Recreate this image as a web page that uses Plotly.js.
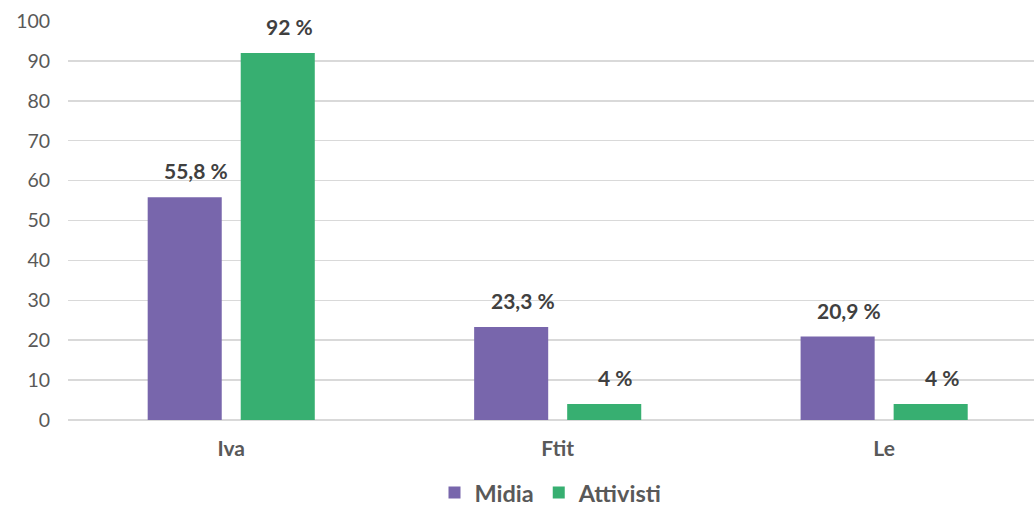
<!DOCTYPE html>
<html>
<head>
<meta charset="utf-8">
<script src="https://cdn.plot.ly/plotly-3.0.1.min.js"></script>
<style>html,body{margin:0;padding:0;background:#fff;}#chart{width:1034px;height:506px;}</style>
</head>
<body>
<div id="chart"></div>
<script>
const categories = ["Iva", "Ftit", "Le"];
const midiaValues = [55.8, 23.3, 20.9];
const attivistiValues = [92, 4, 4];
const midiaLabels = ["55,8 %", "23,3 %", "20,9 %"];
const attivistiLabels = ["92 %", "4 %", "4 %"];
const yTicks = [0, 10, 20, 30, 40, 50, 60, 70, 80, 90, 100];

const purple = "#7866AC";
const green = "#37AF71";
const font = "Lato, 'Open Sans', sans-serif";

const traces = [
  {type: "bar", name: "Midia", x: categories, y: midiaValues, marker: {color: purple}, hoverinfo: "none"},
  {type: "bar", name: "Attivisti", x: categories, y: attivistiValues, marker: {color: green}, hoverinfo: "none"}
];

const annotations = [];
categories.forEach((c, i) => {
  annotations.push({x: c, y: midiaValues[i], xref: "x", yref: "y", text: midiaLabels[i], showarrow: false,
    yanchor: "bottom", yshift: 12, xshift: -35, font: {family: font, size: 21, color: "#404040", weight: "bold"}});
  annotations.push({x: c, y: attivistiValues[i], xref: "x", yref: "y", text: attivistiLabels[i], showarrow: false,
    yanchor: "bottom", yshift: 12, xshift: 58, font: {family: font, size: 21, color: "#404040", weight: "bold"}});
});

const layout = {
  width: 1034, height: 506,
  margin: {l: 68, r: 0, t: 21, b: 86, autoexpand: false},
  paper_bgcolor: "#fff", plot_bgcolor: "#fff",
  barmode: "group", bargap: 0.43, bargroupgap: 0.204,
  font: {family: font, color: "#595959"},
  xaxis: {range: [-0.5, 2.459], showgrid: false, zeroline: false, showline: false, automargin: false,
    tickfont: {family: font, size: 21, color: "#595959", weight: "bold"},
    ticks: "outside", ticklen: 10, tickcolor: "rgba(0,0,0,0)"},
  yaxis: {range: [0, 100], tickvals: yTicks, ticktext: yTicks.map(String), automargin: false,
    showgrid: true, gridcolor: "#D9D9D9", gridwidth: 1.5, zeroline: true, zerolinecolor: "#D9D9D9", zerolinewidth: 1.5,
    showline: false, tickfont: {family: font, size: 19.5, color: "#595959"},
    ticks: "outside", ticklen: 13, tickcolor: "rgba(0,0,0,0)"},
  legend: {orientation: "h", x: 0.5, xanchor: "center", y: -0.182, yanchor: "middle",
    font: {family: font, size: 23.5, color: "#595959", weight: "bold"}, itemwidth: 30, traceorder: "normal"},
  showlegend: true,
  annotations: annotations
};

Plotly.newPlot("chart", traces, layout, {staticPlot: true, displayModeBar: false});
</script>
</body>
</html>
